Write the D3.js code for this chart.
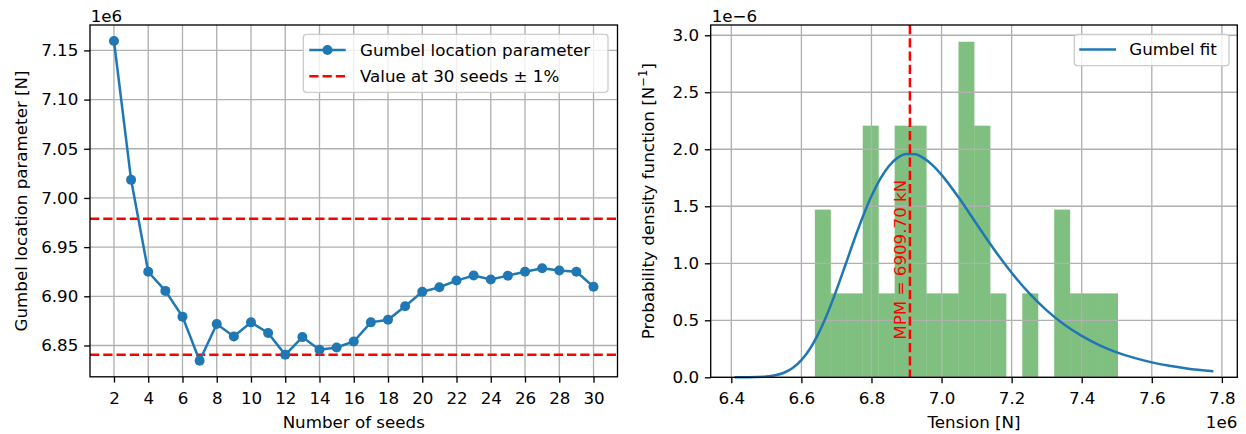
<!DOCTYPE html>
<html>
<head>
<meta charset="utf-8">
<script src="https://cdn.jsdelivr.net/npm/d3@7/dist/d3.min.js"></script>
<style>
    body { margin: 0; background: #fff; }
    svg text { font-family: "DejaVu Sans", sans-serif; font-size: 16.7px; fill: #000; }
</style>
</head>
<body>
<div id="chart"></div>
<script>
// Left panel: Gumbel location parameter vs number of seeds (N)
const seeds = [2, 3, 4, 5, 6, 7, 8, 9, 10, 11, 12, 13, 14, 15, 16, 17, 18, 19, 20, 21, 22, 23, 24, 25, 26, 27, 28, 29, 30];
const gumbelLoc = [7159600, 7018400, 6925000, 6905500, 6879300, 6834400, 6871800, 6859200, 6873500, 6862700,
    6840500, 6858500, 6845600, 6848000, 6854000, 6873500, 6876200, 6889800, 6904500, 6909200,
    6916000, 6921100, 6917000, 6921000, 6925000, 6928600, 6926200, 6925000, 6909700];
const seedTicks = [2, 4, 6, 8, 10, 12, 14, 16, 18, 20, 22, 24, 26, 28, 30];
const locTicks = [6.85e6, 6.90e6, 6.95e6, 7.00e6, 7.05e6, 7.10e6, 7.15e6];

// Right panel: histogram of tensions (N) and Gumbel fit (1/N)
const histEdges = [6.6385e6, 6.6840e6, 6.7296e6, 6.7751e6, 6.8206e6, 6.8662e6, 6.9117e6, 6.9572e6, 7.0028e6, 7.0483e6,
    7.0938e6, 7.1394e6, 7.1849e6, 7.2304e6, 7.2760e6, 7.3215e6, 7.3670e6, 7.4125e6, 7.4581e6, 7.5036e6];
const histDensity = [1.471e-6, 0.736e-6, 0.736e-6, 2.207e-6, 0.736e-6, 2.207e-6, 2.207e-6, 0.736e-6, 0.736e-6, 2.943e-6,
    2.207e-6, 0.736e-6, 0, 0.736e-6, 0, 1.471e-6, 0.736e-6, 0.736e-6, 0.736e-6];
const fitX = [6.4095e6, 6.45e6, 6.50e6, 6.525e6, 6.55e6, 6.575e6, 6.60e6, 6.625e6, 6.65e6, 6.675e6, 6.70e6, 6.725e6,
    6.75e6, 6.775e6, 6.80e6, 6.825e6, 6.85e6, 6.875e6, 6.90e6, 6.925e6, 6.95e6, 6.975e6, 7.00e6, 7.05e6,
    7.10e6, 7.15e6, 7.20e6, 7.25e6, 7.30e6, 7.35e6, 7.40e6, 7.45e6, 7.50e6, 7.55e6, 7.60e6, 7.65e6, 7.70e6, 7.7757e6];
const fitPdf = [0.0000e-6, 0.0006e-6, 0.0065e-6, 0.0173e-6, 0.040e-6, 0.082e-6, 0.151e-6, 0.253e-6, 0.392e-6, 0.565e-6, 0.765e-6, 0.981e-6,
    1.200e-6, 1.406e-6, 1.590e-6, 1.741e-6, 1.854e-6, 1.927e-6, 1.959e-6, 1.956e-6, 1.920e-6, 1.859e-6, 1.776e-6, 1.572e-6,
    1.345e-6, 1.121e-6, 0.917e-6, 0.738e-6, 0.587e-6, 0.463e-6, 0.363e-6, 0.283e-6, 0.219e-6, 0.170e-6, 0.131e-6, 0.101e-6, 0.0776e-6, 0.052e-6];
const mpm = 6909700;
const tensionTicks = [6.4e6, 6.6e6, 6.8e6, 7.0e6, 7.2e6, 7.4e6, 7.6e6, 7.8e6];
const pdfTicks = [0, 0.5e-6, 1.0e-6, 1.5e-6, 2.0e-6, 2.5e-6, 3.0e-6];

const blue = "#1f77b4", red = "#ff0000", gridCol = "#b0b0b0";
const tickLen = 5.83, lw = 2.5, thin = 1.33, dash = "9.25,4";

const svg = d3.select("#chart").append("svg")
    .attr("width", 1246)
    .attr("height", 434);

svg.append("rect").attr("width", 1246).attr("height", 434).attr("fill", "#fff");

// pad domain like matplotlib (5%)
function pad(ext) {
    const m = (ext[1] - ext[0]) * 0.05;
    return [ext[0] - m, ext[1] + m];
}

// grid + axes
function drawFrame(g, x, y, xt, yt, xfmt, yfmt, w, h) {
    g.append("g").selectAll("line").data(xt).enter().append("line")
        .attr("x1", d => x(d)).attr("x2", d => x(d)).attr("y1", 0).attr("y2", h)
        .attr("stroke", gridCol).attr("stroke-width", thin);
    g.append("g").selectAll("line").data(yt).enter().append("line")
        .attr("y1", d => y(d)).attr("y2", d => y(d)).attr("x1", 0).attr("x2", w)
        .attr("stroke", gridCol).attr("stroke-width", thin);

    const xa = g.append("g").attr("transform", `translate(0,${h})`)
        .call(d3.axisBottom(x).tickValues(xt).tickFormat(xfmt).tickSize(tickLen).tickPadding(9.2).tickSizeOuter(0));
    const ya = g.append("g")
        .call(d3.axisLeft(y).tickValues(yt).tickFormat(yfmt).tickSize(tickLen).tickPadding(5.83).tickSizeOuter(0));
    [xa, ya].forEach(a => {
        a.select(".domain").remove();
        a.selectAll("line").attr("stroke", "#000").attr("stroke-width", thin);
        a.selectAll("text").style("font-size", "16.7px").style("font-family", "DejaVu Sans").attr("fill", "#000");
    });
}

function drawSpines(g, w, h) {
    g.append("rect").attr("x", 0).attr("y", 0).attr("width", w).attr("height", h)
        .attr("fill", "none").attr("stroke", "#000").attr("stroke-width", thin);
}

// ---------------- Left chart ----------------
const L = { left: 90, top: 25, w: 527.5, h: 351.8 };
const gl = svg.append("g").attr("transform", `translate(${L.left},${L.top})`);

const xL = d3.scaleLinear().domain(pad(d3.extent(seeds))).range([0, L.w]);
const yL = d3.scaleLinear().domain(pad(d3.extent(gumbelLoc))).range([L.h, 0]);

drawFrame(gl, xL, yL, seedTicks, locTicks, d => d, d => (d / 1e6).toFixed(2), L.w, L.h);

// +/- 1% around the value at 30 seeds
const last = gumbelLoc[gumbelLoc.length - 1];
[last * 1.01, last * 0.99].forEach(v => {
    gl.append("line")
        .attr("x1", 0).attr("x2", L.w).attr("y1", yL(v)).attr("y2", yL(v))
        .attr("stroke", red).attr("stroke-width", lw).attr("stroke-dasharray", dash);
});

const pts = seeds.map((s, i) => ({ s: s, v: gumbelLoc[i] }));
gl.append("path").datum(pts)
    .attr("fill", "none").attr("stroke", blue).attr("stroke-width", lw)
    .attr("d", d3.line().x(d => xL(d.s)).y(d => yL(d.v)));
gl.selectAll(".pt").data(pts).enter().append("circle")
    .attr("class", "pt")
    .attr("cx", d => xL(d.s)).attr("cy", d => yL(d.v)).attr("r", 5)
    .attr("fill", blue);

drawSpines(gl, L.w, L.h);

// labels
gl.append("text").attr("x", 0.7).attr("y", -3.5).text("1e6");
svg.append("text").attr("x", L.left + L.w / 2).attr("y", 427.5).attr("text-anchor", "middle").text("Number of seeds");
svg.append("text").attr("transform", `translate(26.5,${L.top + L.h / 2}) rotate(-90)`)
    .attr("text-anchor", "middle").text("Gumbel location parameter [N]");

// legend
const lg = svg.append("g").attr("transform", "translate(303.3,34.3)");
lg.append("rect").attr("width", 304.7).attr("height", 58).attr("rx", 3.3)
    .attr("fill", "#fff").attr("fill-opacity", 0.8).attr("stroke", "#cccccc").attr("stroke-width", thin);
lg.append("line").attr("x1", 6).attr("x2", 42.4).attr("y1", 15.7).attr("y2", 15.7)
    .attr("stroke", blue).attr("stroke-width", lw);
lg.append("circle").attr("cx", 24.2).attr("cy", 15.7).attr("r", 5).attr("fill", blue);
lg.append("text").attr("x", 56.7).attr("y", 15.7).attr("dy", "0.35em").text("Gumbel location parameter");
lg.append("line").attr("x1", 6).attr("x2", 42.4).attr("y1", 42).attr("y2", 42)
    .attr("stroke", red).attr("stroke-width", lw).attr("stroke-dasharray", dash);
lg.append("text").attr("x", 56.7).attr("y", 42).attr("dy", "0.35em").text("Value at 30 seeds ± 1%");

// ---------------- Right chart ----------------
const R = { left: 710.7, top: 25, w: 526.6, h: 352.3 };
const gr = svg.append("g").attr("transform", `translate(${R.left},${R.top})`);

const xR = d3.scaleLinear().domain(pad(d3.extent(fitX))).range([0, R.w]);
const yR = d3.scaleLinear().domain([0, d3.max(histDensity) * 1.05]).range([R.h, 0]);

const bins = histDensity.map((d, i) => ({ x0: histEdges[i], x1: histEdges[i + 1], d: d }));
gr.selectAll(".bar").data(bins).enter().append("rect")
    .attr("class", "bar")
    .attr("x", d => xR(d.x0))
    .attr("width", d => xR(d.x1) - xR(d.x0))
    .attr("y", d => yR(d.d))
    .attr("height", d => R.h - yR(d.d))
    .attr("fill", "#008000").attr("fill-opacity", 0.5);

drawFrame(gr, xR, yR, tensionTicks, pdfTicks, d => (d / 1e6).toFixed(1), d => (d * 1e6).toFixed(1), R.w, R.h);

const fitPts = fitX.map((x, i) => ({ x: x, y: fitPdf[i] }));
gr.append("path").datum(fitPts)
    .attr("fill", "none").attr("stroke", blue).attr("stroke-width", lw)
    .attr("d", d3.line().x(d => xR(d.x)).y(d => yR(d.y)).curve(d3.curveMonotoneX));

gr.append("line")
    .attr("x1", xR(mpm)).attr("x2", xR(mpm)).attr("y1", 0).attr("y2", R.h)
    .attr("stroke", red).attr("stroke-width", lw).attr("stroke-dasharray", dash);
gr.append("text")
    .attr("transform", `translate(${xR(mpm) - 4},${yR(0.33e-6)}) rotate(-90)`)
    .style("fill", red)
    .text(`MPM = ${(mpm / 1000).toFixed(2)} kN`);

drawSpines(gr, R.w, R.h);

gr.append("text").attr("x", 1).attr("y", -3.5).text("1e\u22126");
svg.append("text").attr("x", R.left + R.w / 2).attr("y", 427.5).attr("text-anchor", "middle").text("Tension [N]");
svg.append("text").attr("x", R.left + R.w).attr("y", 427.5).attr("text-anchor", "end").text("1e6");
const yl = svg.append("text").attr("transform", `translate(654,${R.top + R.h / 2}) rotate(-90)`)
    .attr("text-anchor", "middle");
yl.append("tspan").text("Probability density function [N");
yl.append("tspan").attr("dy", -7).style("font-size", "11.7px").text("\u22121");
yl.append("tspan").attr("dy", 7).text("]");

// legend
const rg = svg.append("g").attr("transform", "translate(1074.3,34.3)");
rg.append("rect").attr("width", 154.7).attr("height", 31.4).attr("rx", 3.3)
    .attr("fill", "#fff").attr("fill-opacity", 0.8).attr("stroke", "#cccccc").attr("stroke-width", thin);
rg.append("line").attr("x1", 5).attr("x2", 41.7).attr("y1", 15.2).attr("y2", 15.2)
    .attr("stroke", blue).attr("stroke-width", lw);
rg.append("text").attr("x", 55).attr("y", 15.2).attr("dy", "0.35em").text("Gumbel fit");
</script>
</body>
</html>
